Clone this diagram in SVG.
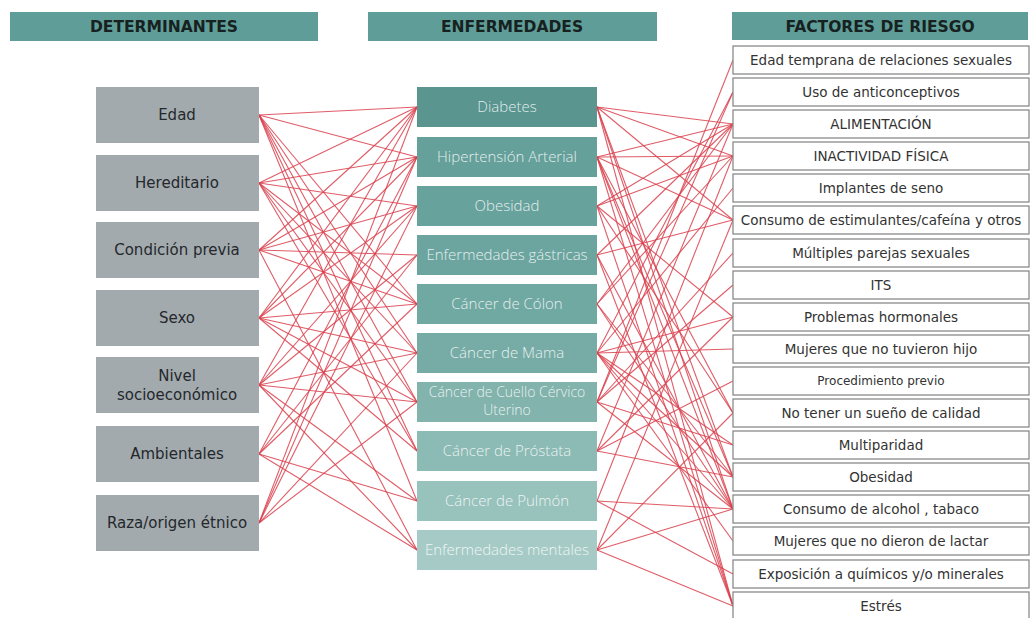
<svg xmlns="http://www.w3.org/2000/svg" width="1032" height="618" viewBox="0 0 1032 618">
<style>
.hdr{fill:#5f9e98}
.hdrt{font-family:"DejaVu Sans",sans-serif;font-weight:bold;font-size:15.5px;fill:#17211f;text-anchor:middle}
.lb{fill:#a3aaae}
.lt{font-family:"DejaVu Sans",sans-serif;font-size:15px;fill:#23282c;text-anchor:middle}
.mt{font-family:"Open Sans",sans-serif;font-weight:300;font-size:15px;fill:#ffffff;fill-opacity:0.85;text-anchor:middle}
.rb{fill:#ffffff;stroke:#8a8a8a;stroke-width:1.3}
.rt{font-family:"DejaVu Sans",sans-serif;font-size:13.5px;fill:#333333;text-anchor:middle}
.c line{stroke:#d9404c;stroke-width:1.1;stroke-opacity:0.85}
</style>
<rect width="1032" height="618" fill="#ffffff"/>
<g id="headers">
<g id="h-det"><rect class="hdr" x="10" y="12" width="308" height="29"/><text class="hdrt" x="164" y="32">DETERMINANTES</text></g>
<g id="h-enf"><rect class="hdr" x="368" y="12" width="289" height="29"/><text class="hdrt" x="512" y="32">ENFERMEDADES</text></g>
<g id="h-fac"><rect class="hdr" x="732" y="12" width="296" height="28"/><text class="hdrt" x="880" y="32">FACTORES DE RIESGO</text></g>
</g>
<g class="c" id="connectors">
<line x1="259" y1="115" x2="417" y2="107"/><line x1="259" y1="115" x2="417" y2="157"/><line x1="259" y1="115" x2="417" y2="304"/><line x1="259" y1="115" x2="417" y2="353"/><line x1="259" y1="115" x2="417" y2="402"/><line x1="259" y1="115" x2="417" y2="451"/><line x1="259" y1="115" x2="417" y2="501"/>
<line x1="259" y1="183" x2="417" y2="107"/><line x1="259" y1="183" x2="417" y2="157"/><line x1="259" y1="183" x2="417" y2="206"/><line x1="259" y1="183" x2="417" y2="304"/><line x1="259" y1="183" x2="417" y2="353"/><line x1="259" y1="183" x2="417" y2="402"/><line x1="259" y1="183" x2="417" y2="451"/>
<line x1="259" y1="250" x2="417" y2="107"/><line x1="259" y1="250" x2="417" y2="157"/><line x1="259" y1="250" x2="417" y2="206"/><line x1="259" y1="250" x2="417" y2="255"/><line x1="259" y1="250" x2="417" y2="304"/><line x1="259" y1="250" x2="417" y2="550"/>
<line x1="259" y1="318" x2="417" y2="107"/><line x1="259" y1="318" x2="417" y2="157"/><line x1="259" y1="318" x2="417" y2="206"/><line x1="259" y1="318" x2="417" y2="304"/><line x1="259" y1="318" x2="417" y2="353"/><line x1="259" y1="318" x2="417" y2="402"/><line x1="259" y1="318" x2="417" y2="451"/>
<line x1="259" y1="385" x2="417" y2="107"/><line x1="259" y1="385" x2="417" y2="206"/><line x1="259" y1="385" x2="417" y2="255"/><line x1="259" y1="385" x2="417" y2="353"/><line x1="259" y1="385" x2="417" y2="402"/><line x1="259" y1="385" x2="417" y2="501"/><line x1="259" y1="385" x2="417" y2="550"/>
<line x1="259" y1="454" x2="417" y2="157"/><line x1="259" y1="454" x2="417" y2="255"/><line x1="259" y1="454" x2="417" y2="304"/><line x1="259" y1="454" x2="417" y2="501"/><line x1="259" y1="454" x2="417" y2="550"/>
<line x1="259" y1="523" x2="417" y2="107"/><line x1="259" y1="523" x2="417" y2="157"/><line x1="259" y1="523" x2="417" y2="206"/><line x1="259" y1="523" x2="417" y2="353"/><line x1="259" y1="523" x2="417" y2="402"/>
<line x1="597" y1="107" x2="733" y2="124"/><line x1="597" y1="107" x2="733" y2="156"/><line x1="597" y1="107" x2="733" y2="220"/><line x1="597" y1="107" x2="733" y2="477"/><line x1="597" y1="107" x2="733" y2="509"/><line x1="597" y1="107" x2="733" y2="606"/>
<line x1="597" y1="157" x2="733" y2="124"/><line x1="597" y1="157" x2="733" y2="156"/><line x1="597" y1="157" x2="733" y2="220"/><line x1="597" y1="157" x2="733" y2="413"/><line x1="597" y1="157" x2="733" y2="477"/><line x1="597" y1="157" x2="733" y2="509"/><line x1="597" y1="157" x2="733" y2="606"/>
<line x1="597" y1="206" x2="733" y2="124"/><line x1="597" y1="206" x2="733" y2="156"/><line x1="597" y1="206" x2="733" y2="317"/><line x1="597" y1="206" x2="733" y2="413"/><line x1="597" y1="206" x2="733" y2="606"/>
<line x1="597" y1="255" x2="733" y2="124"/><line x1="597" y1="255" x2="733" y2="220"/><line x1="597" y1="255" x2="733" y2="509"/><line x1="597" y1="255" x2="733" y2="606"/>
<line x1="597" y1="304" x2="733" y2="124"/><line x1="597" y1="304" x2="733" y2="156"/><line x1="597" y1="304" x2="733" y2="477"/><line x1="597" y1="304" x2="733" y2="509"/>
<line x1="597" y1="353" x2="733" y2="92"/><line x1="597" y1="353" x2="733" y2="188"/><line x1="597" y1="353" x2="733" y2="317"/><line x1="597" y1="353" x2="733" y2="349"/><line x1="597" y1="353" x2="733" y2="445"/><line x1="597" y1="353" x2="733" y2="477"/><line x1="597" y1="353" x2="733" y2="509"/><line x1="597" y1="353" x2="733" y2="541"/>
<line x1="597" y1="402" x2="733" y2="60"/><line x1="597" y1="402" x2="733" y2="92"/><line x1="597" y1="402" x2="733" y2="253"/><line x1="597" y1="402" x2="733" y2="285"/><line x1="597" y1="402" x2="733" y2="445"/><line x1="597" y1="402" x2="733" y2="509"/>
<line x1="597" y1="451" x2="733" y2="124"/><line x1="597" y1="451" x2="733" y2="317"/><line x1="597" y1="451" x2="733" y2="381"/><line x1="597" y1="451" x2="733" y2="477"/>
<line x1="597" y1="501" x2="733" y2="156"/><line x1="597" y1="501" x2="733" y2="509"/><line x1="597" y1="501" x2="733" y2="574"/>
<line x1="597" y1="550" x2="733" y2="220"/><line x1="597" y1="550" x2="733" y2="413"/><line x1="597" y1="550" x2="733" y2="509"/><line x1="597" y1="550" x2="733" y2="606"/>
</g>
<g id="determinantes">
<g id="n-edad"><rect class="lb" x="96" y="87" width="163" height="56"/><text class="lt" x="177" y="120">Edad</text></g>
<g id="n-hereditario"><rect class="lb" x="96" y="155" width="163" height="56"/><text class="lt" x="177" y="188">Hereditario</text></g>
<g id="n-condicion"><rect class="lb" x="96" y="222" width="163" height="56"/><text class="lt" x="177" y="255">Condición previa</text></g>
<g id="n-sexo"><rect class="lb" x="96" y="290" width="163" height="56"/><text class="lt" x="177" y="323">Sexo</text></g>
<g id="n-nivel"><rect class="lb" x="96" y="357" width="163" height="56"/><text class="lt" x="177" y="381">Nivel</text><text class="lt" x="177" y="400">socioeconómico</text></g>
<g id="n-ambientales"><rect class="lb" x="96" y="426" width="163" height="56"/><text class="lt" x="177" y="459">Ambientales</text></g>
<g id="n-raza"><rect class="lb" x="96" y="495" width="163" height="56"/><text class="lt" x="177" y="528">Raza/origen étnico</text></g>
</g>
<g id="enfermedades">
<g id="m-diabetes"><rect x="417" y="87" width="180" height="40" fill="#5a9590"/><text class="mt" x="507" y="112">Diabetes</text></g>
<g id="m-hipertension"><rect x="417" y="137" width="180" height="40" fill="#65a09a"/><text class="mt" x="507" y="162">Hipertensión Arterial</text></g>
<g id="m-obesidad"><rect x="417" y="186" width="180" height="40" fill="#68a29c"/><text class="mt" x="507" y="211">Obesidad</text></g>
<g id="m-gastricas"><rect x="417" y="235" width="180" height="40" fill="#6ca59f"/><text class="mt" x="507" y="260">Enfermedades gástricas</text></g>
<g id="m-colon"><rect x="417" y="284" width="180" height="40" fill="#70a8a2"/><text class="mt" x="507" y="309">Cáncer de Cólon</text></g>
<g id="m-mama"><rect x="417" y="333" width="180" height="40" fill="#77aca6"/><text class="mt" x="507" y="358">Cáncer de Mama</text></g>
<g id="m-cuello"><rect x="417" y="382" width="180" height="40" fill="#82b3ad"/><text class="mt" x="507" y="397" style="font-size:14px">Cáncer de Cuello Cérvico</text><text class="mt" x="507" y="415" style="font-size:14px">Uterino</text></g>
<g id="m-prostata"><rect x="417" y="431" width="180" height="40" fill="#8cbab4"/><text class="mt" x="507" y="456">Cáncer de Próstata</text></g>
<g id="m-pulmon"><rect x="417" y="481" width="180" height="40" fill="#98c2bc"/><text class="mt" x="507" y="506">Cáncer de Pulmón</text></g>
<g id="m-mentales"><rect x="417" y="530" width="180" height="40" fill="#a6cbc6"/><text class="mt" x="507" y="555">Enfermedades mentales</text></g>
</g>
<g id="factores">
<g id="r0"><rect class="rb" x="733" y="46" width="296" height="28"/><text class="rt" x="881" y="65">Edad temprana de relaciones sexuales</text></g>
<g id="r1"><rect class="rb" x="733" y="78" width="296" height="28"/><text class="rt" x="881" y="97">Uso de anticonceptivos</text></g>
<g id="r2"><rect class="rb" x="733" y="110" width="296" height="28"/><text class="rt" x="881" y="129">ALIMENTACIÓN</text></g>
<g id="r3"><rect class="rb" x="733" y="142" width="296" height="28"/><text class="rt" x="881" y="161">INACTIVIDAD FÍSICA</text></g>
<g id="r4"><rect class="rb" x="733" y="174" width="296" height="28"/><text class="rt" x="881" y="193">Implantes de seno</text></g>
<g id="r5"><rect class="rb" x="733" y="206" width="296" height="28"/><text class="rt" x="881" y="225">Consumo de estimulantes/cafeína y otros</text></g>
<g id="r6"><rect class="rb" x="733" y="239" width="296" height="28"/><text class="rt" x="881" y="258">Múltiples parejas sexuales</text></g>
<g id="r7"><rect class="rb" x="733" y="271" width="296" height="28"/><text class="rt" x="881" y="290">ITS</text></g>
<g id="r8"><rect class="rb" x="733" y="303" width="296" height="28"/><text class="rt" x="881" y="322">Problemas hormonales</text></g>
<g id="r9"><rect class="rb" x="733" y="335" width="296" height="28"/><text class="rt" x="881" y="354">Mujeres que no tuvieron hijo</text></g>
<g id="r10"><rect class="rb" x="733" y="367" width="296" height="28"/><text class="rt" x="881" y="385" style="font-size:12px">Procedimiento previo</text></g>
<g id="r11"><rect class="rb" x="733" y="399" width="296" height="28"/><text class="rt" x="881" y="418">No tener un sueño de calidad</text></g>
<g id="r12"><rect class="rb" x="733" y="431" width="296" height="28"/><text class="rt" x="881" y="450">Multiparidad</text></g>
<g id="r13"><rect class="rb" x="733" y="463" width="296" height="28"/><text class="rt" x="881" y="482">Obesidad</text></g>
<g id="r14"><rect class="rb" x="733" y="495" width="296" height="28"/><text class="rt" x="881" y="514">Consumo de alcohol , tabaco</text></g>
<g id="r15"><rect class="rb" x="733" y="527" width="296" height="28"/><text class="rt" x="881" y="546">Mujeres que no dieron de lactar</text></g>
<g id="r16"><rect class="rb" x="733" y="560" width="296" height="28"/><text class="rt" x="881" y="579">Exposición a químicos y/o minerales</text></g>
<g id="r17"><rect class="rb" x="733" y="592" width="296" height="28"/><text class="rt" x="881" y="611">Estrés</text></g>
</g>
</svg>
